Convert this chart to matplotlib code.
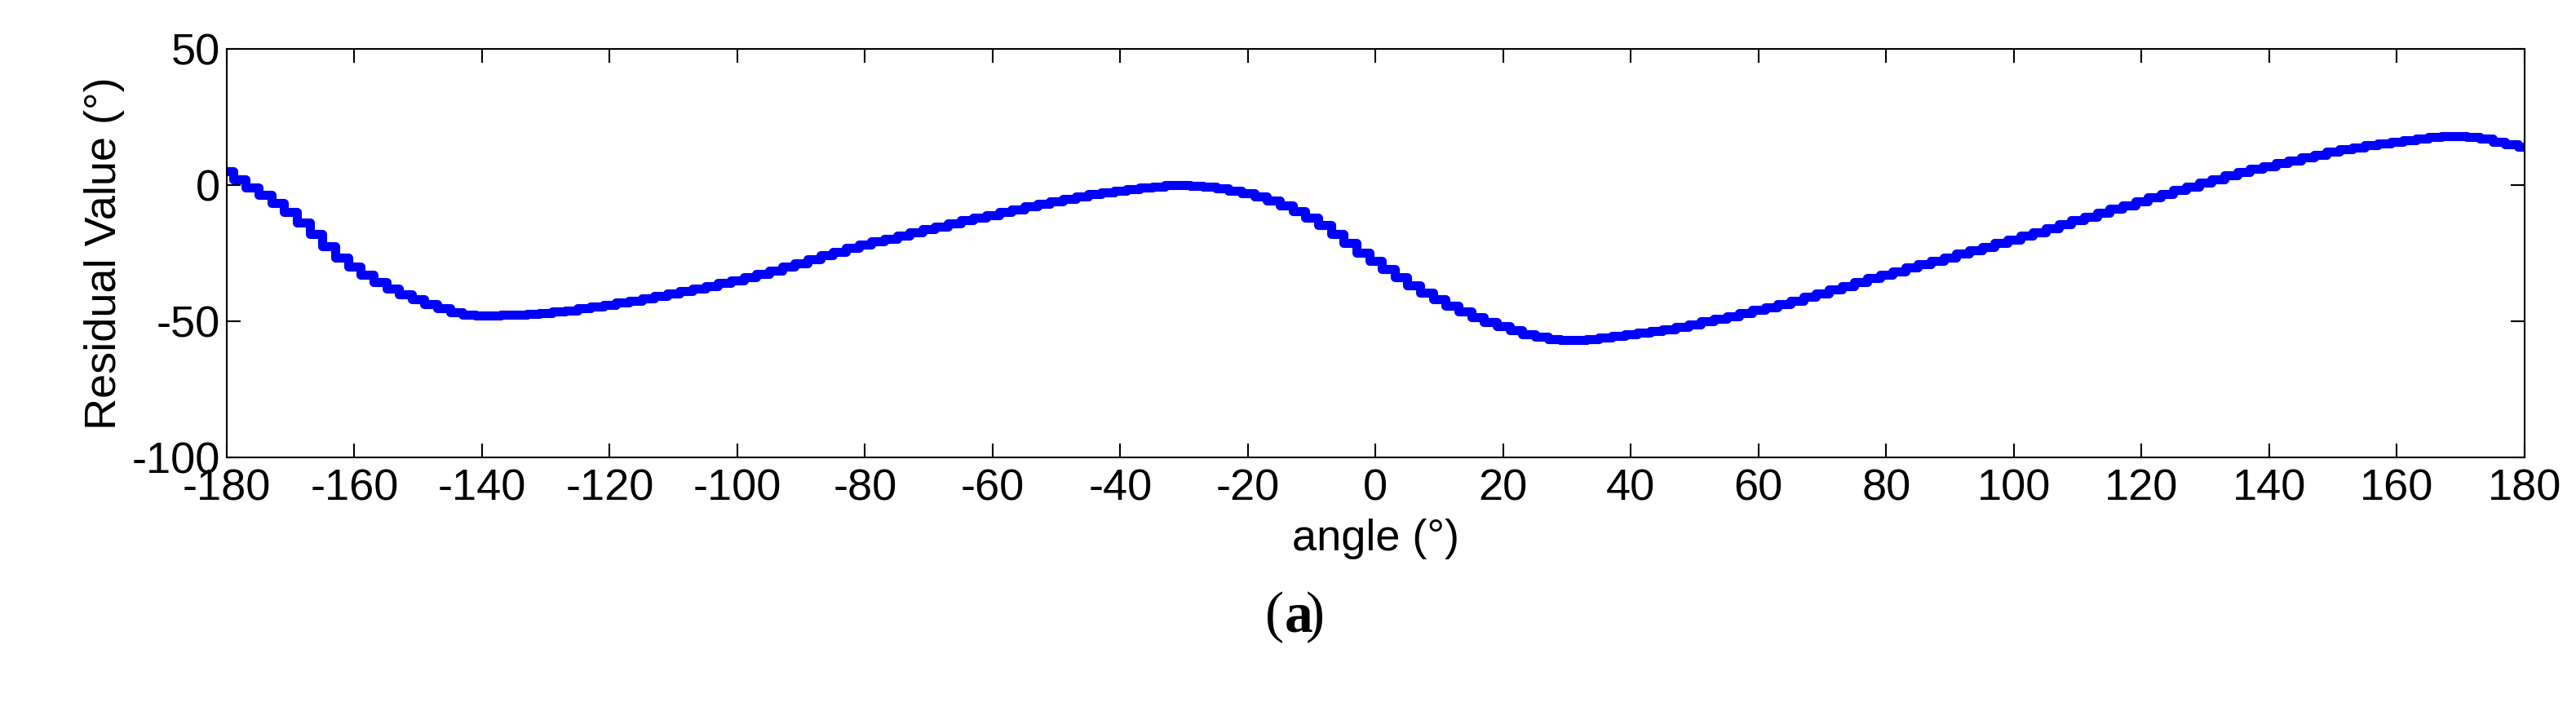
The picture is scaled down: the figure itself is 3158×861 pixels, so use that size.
import matplotlib
matplotlib.use("Agg")
import matplotlib.pyplot as plt
import numpy as np

angle = [-180, -170, -160, -150, -140, -130, -120, -100, -80, -60, -40, -30, -20, -10, 0, 10, 20, 30, 40, 60, 80, 100, 120, 140, 160, 170, 180]
residual = [5, -10, -30, -42, -48, -47, -44, -35, -22, -11, -2, 0, -3, -12, -28, -42, -52, -57, -55, -46, -33, -20, -6, 7, 16, 18, 14]
xticks = list(range(-180, 181, 20))
yticks = [-100, -50, 0, 50]

plt.rcParams['font.family'] = ['Liberation Sans', 'DejaVu Sans']
plt.rcParams['axes.unicode_minus'] = False
fig = plt.figure(figsize=(31.58, 8.61), dpi=100)
ax = fig.add_axes([0.088, 0.349, 0.892, 0.581])
xs = np.arange(-180, 181, 2)
def pchip(x, y, xq):
    x = np.asarray(x, float); y = np.asarray(y, float)
    h = np.diff(x); d = np.diff(y) / h
    m = np.zeros_like(y)
    m[0], m[-1] = d[0], d[-1]
    for i in range(1, len(y) - 1):
        if d[i-1] * d[i] <= 0:
            m[i] = 0
        else:
            w1 = 2*h[i] + h[i-1]; w2 = h[i] + 2*h[i-1]
            m[i] = (w1 + w2) / (w1/d[i-1] + w2/d[i])
    idx = np.clip(np.searchsorted(x, xq) - 1, 0, len(x) - 2)
    t = (xq - x[idx]) / h[idx]
    h00 = 2*t**3 - 3*t**2 + 1; h10 = t**3 - 2*t**2 + t
    h01 = -2*t**3 + 3*t**2; h11 = t**3 - t**2
    return h00*y[idx] + h10*h[idx]*m[idx] + h01*y[idx+1] + h11*h[idx]*m[idx+1]
ax.step(xs, pchip(angle, residual, xs), where='mid', color='#0000ff', lw=8)
ax.set_xlim(-180, 180)
ax.set_ylim(-100, 50)
ax.set_xticks(xticks)
ax.set_yticks(yticks)
ax.tick_params(labelsize=39, direction='in', length=12, width=1.5, top=True, right=True)
ax.tick_params(axis='x', pad=10)
ax.tick_params(axis='y', pad=6)
for s in ax.spines.values():
    s.set_linewidth(1.5)
ax.set_xlabel('angle (°)', fontsize=39, labelpad=8)
ax.set_ylabel('Residual Value (°)', fontsize=39, labelpad=6)
fig.text(0.4985, 0.12, '(', fontsize=50, family='Liberation Serif', ha='right', va='center')
fig.text(0.4985, 0.12, 'a', fontsize=50, family='Liberation Serif', weight='bold', ha='left', va='center')
fig.text(0.4985 + 0.0085, 0.12, ')', fontsize=50, family='Liberation Serif', ha='left', va='center')
fig.savefig('out.png', dpi=100)
